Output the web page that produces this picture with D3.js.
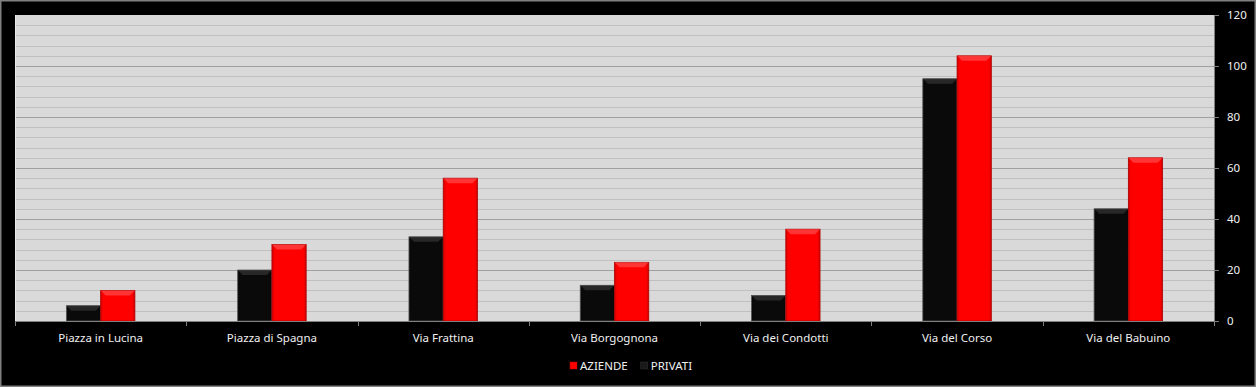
<!DOCTYPE html>
<html>
<head>
<meta charset="utf-8">
<script src="https://cdn.jsdelivr.net/npm/d3@7"></script>
<style>
  html, body { margin: 0; padding: 0; background: #000; }
  svg { display: block; }
  .lbl { font-family: "Noto Sans", sans-serif; font-size: 11.5px; fill: #f0f0f0; }
</style>
</head>
<body>
<div id="chart"></div>
<script>
// dati
var categories = ["Piazza in Lucina", "Piazza di Spagna", "Via Frattina", "Via Borgognona",
                  "Via dei Condotti", "Via del Corso", "Via del Babuino"];
var seriesNames = ["PRIVATI", "AZIENDE"];
var privati = [6, 20, 33, 14, 10, 95, 44];
var aziende = [12, 30, 56, 23, 36, 104, 64];
var yTicks = [0, 20, 40, 60, 80, 100, 120];

var W = 1256, H = 387;
var margin = { top: 15, right: 42, bottom: 66, left: 15 };
var plotW = W - margin.left - margin.right;
var plotH = H - margin.top - margin.bottom;

var colors = { "PRIVATI": "#0a0a0a", "AZIENDE": "#ff0000" };
var values = { "PRIVATI": privati, "AZIENDE": aziende };

var svg = d3.select('#chart').append('svg')
  .attr('width', W).attr('height', H);

// bordo esterno
svg.append('rect')
  .attr('x', 0.5).attr('y', 0.5)
  .attr('width', W - 1).attr('height', H - 1)
  .attr('fill', '#000').attr('stroke', '#808080').attr('stroke-width', 2);

var g = svg.append('g').attr('transform', 'translate(' + margin.left + ',' + margin.top + ')');

var x0 = d3.scaleBand().domain(categories).range([0, plotW]).paddingInner(0).paddingOuter(0);
var x1 = d3.scaleBand().domain(seriesNames).range([0, x0.bandwidth()]).paddingInner(0).paddingOuter(1.5);
var y = d3.scaleLinear().domain([0, 120]).range([plotH, 0]);

g.append('rect')
  .attr('width', plotW).attr('height', plotH)
  .attr('fill', '#d9d9d9');

// griglia secondaria ogni 4
g.append('g').selectAll('line')
  .data(d3.range(4, 120, 4).filter(function(d) { return d % 20 !== 0; }))
  .enter().append('line')
  .attr('x1', 0).attr('x2', plotW)
  .attr('y1', function(d) { return Math.round(y(d)) + 0.5; })
  .attr('y2', function(d) { return Math.round(y(d)) + 0.5; })
  .attr('stroke', '#c0c0c0').attr('stroke-width', 1);

// griglia principale
g.append('g').selectAll('line')
  .data(yTicks.slice(1, -1))
  .enter().append('line')
  .attr('x1', 0).attr('x2', plotW)
  .attr('y1', function(d) { return Math.round(y(d)) + 0.5; })
  .attr('y2', function(d) { return Math.round(y(d)) + 0.5; })
  .attr('stroke', '#a0a0a0').attr('stroke-width', 1);

// bordo sinistro chiaro
g.append('line')
  .attr('x1', 0.5).attr('x2', 0.5).attr('y1', 0).attr('y2', plotH)
  .attr('stroke', '#eaeaea');

// barre
var defs = svg.append('defs');
seriesNames.forEach(function(s) {
  var grad = defs.append('linearGradient')
    .attr('id', 'grad-' + s).attr('x1', 0).attr('y1', 0).attr('x2', 1).attr('y2', 0);
  var c = d3.color(colors[s]);
  grad.append('stop').attr('offset', '0%').attr('stop-color', c.darker(0.6));
  grad.append('stop').attr('offset', '8%').attr('stop-color', c);
  grad.append('stop').attr('offset', '92%').attr('stop-color', c);
  grad.append('stop').attr('offset', '100%').attr('stop-color', c.darker(0.6));
});

var groups = g.append('g').selectAll('g')
  .data(categories)
  .enter().append('g')
  .attr('transform', function(d) { return 'translate(' + x0(d) + ',0)'; });

var bars = groups.selectAll('g.bar')
  .data(function(d, i) {
    return seriesNames.map(function(s) { return { s: s, v: values[s][i] }; });
  })
  .enter().append('g').attr('class', 'bar');

bars.append('rect')
  .attr('x', function(d) { return x1(d.s); })
  .attr('y', function(d) { return y(d.v); })
  .attr('width', x1.bandwidth())
  .attr('height', function(d) { return plotH - y(d.v); })
  .attr('fill', function(d) { return 'url(#grad-' + d.s + ')'; })
  .attr('stroke', function(d) { return d.s === 'PRIVATI' ? '#555' : '#b00000'; })
  .attr('stroke-width', 0.8);

// smusso superiore
bars.append('path')
  .attr('d', function(d) {
    var bx = x1(d.s), by = y(d.v), bw = x1.bandwidth(), b = 5;
    return 'M' + bx + ',' + by + 'L' + (bx + bw) + ',' + by +
           'L' + (bx + bw - b) + ',' + (by + b) + 'L' + (bx + b) + ',' + (by + b) + 'Z';
  })
  .attr('fill', function(d) { return d.s === 'PRIVATI' ? '#444' : '#ff6a6a'; })
  .attr('opacity', 0.5);

// asse X
g.append('line')
  .attr('x1', 0).attr('x2', plotW)
  .attr('y1', plotH + 0.5).attr('y2', plotH + 0.5)
  .attr('stroke', '#808080');

g.append('g').selectAll('line')
  .data(categories.concat(['end']))
  .enter().append('line')
  .attr('x1', function(d, i) { return Math.round(i * x0.step()) + 0.5; })
  .attr('x2', function(d, i) { return Math.round(i * x0.step()) + 0.5; })
  .attr('y1', plotH).attr('y2', plotH + 5)
  .attr('stroke', '#808080');

g.append('g').selectAll('text')
  .data(categories)
  .enter().append('text')
  .attr('class', 'lbl')
  .attr('x', function(d) { return x0(d) + x0.bandwidth() / 2; })
  .attr('y', plotH + 21)
  .attr('text-anchor', 'middle')
  .text(function(d) { return d; });

// asse Y a destra
var yAxis = d3.axisRight(y).tickValues(yTicks).tickSize(5).tickPadding(8);
var gy = g.append('g').attr('transform', 'translate(' + plotW + ',0)').call(yAxis);
gy.select('.domain').attr('stroke', '#808080');
gy.selectAll('.tick line').attr('stroke', '#808080');
gy.selectAll('.tick text').attr('class', 'lbl').attr('fill', null);

// legenda
var legendData = ["AZIENDE", "PRIVATI"];
var legend = svg.append('g').attr('transform', 'translate(570,366)');
var lx = 0;
legendData.forEach(function(s) {
  var it = legend.append('g').attr('transform', 'translate(' + lx + ',0)');
  it.append('rect')
    .attr('x', 0).attr('y', -4).attr('width', 7).attr('height', 7)
    .attr('fill', s === 'PRIVATI' ? '#1a1a1a' : '#ff0000')
    .attr('stroke', s === 'PRIVATI' ? '#333' : '#c00000').attr('stroke-width', 0.5);
  var t = it.append('text')
    .attr('class', 'lbl')
    .attr('x', 10).attr('y', 4)
    .text(s);
  lx += 10 + t.node().getComputedTextLength() + 13;
});
</script>
</body>
</html>
